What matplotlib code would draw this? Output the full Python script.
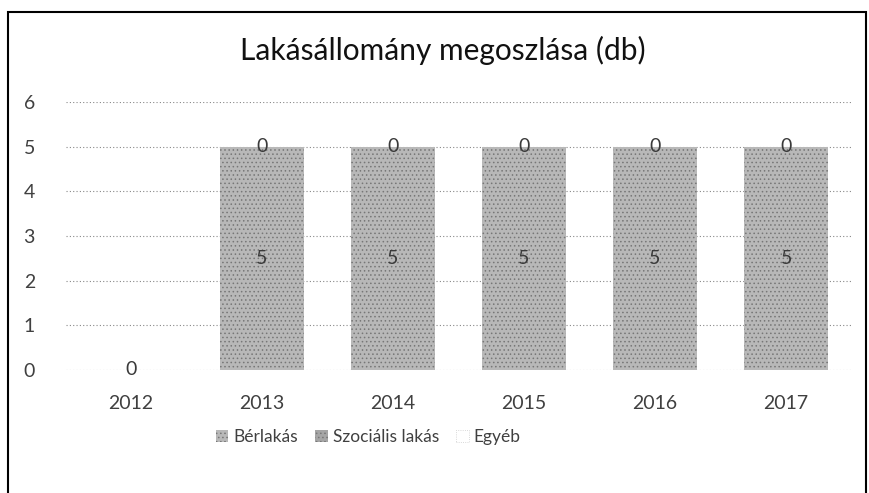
import matplotlib
matplotlib.use("Agg")
import matplotlib.pyplot as plt
from matplotlib.patches import Rectangle, Patch
import numpy as np

plt.rcParams['font.family'] = ['Lato', 'DejaVu Sans']
plt.rcParams['hatch.linewidth'] = 0.6

years = ['2012', '2013', '2014', '2015', '2016', '2017']
berlakas = [0, 5, 5, 5, 5, 5]
szocialis = [0, 0, 0, 0, 0, 0]
egyeb = [0, 0, 0, 0, 0, 0]
title = 'Lakásállomány megoszlása (db)'
series_names = ['Bérlakás', 'Szociális lakás', 'Egyéb']

fig = plt.figure(figsize=(8.69, 4.93), dpi=100)
ax = fig.add_axes([0.0754, 0.2495, 0.9046, 0.5436])

x = np.arange(len(years))
w = 0.64
bar_col = '#b8b8b8'
hatch_col = '#777777'
b1 = ax.bar(x, berlakas, w, color=bar_col, edgecolor=hatch_col, hatch='....', linewidth=0, zorder=3)
bottom2 = np.array(berlakas)
b2 = ax.bar(x, szocialis, w, bottom=bottom2, color='#a5a5a5', edgecolor=hatch_col, hatch='....', linewidth=0, zorder=3)
bottom3 = bottom2 + np.array(szocialis)
b3 = ax.bar(x, egyeb, w, bottom=bottom3, color='white', linewidth=0, zorder=3)

lab_col = '#3a3a3a'
for i in range(len(years)):
    ax.text(x[i], berlakas[i] / 2, str(berlakas[i]), ha='center', va='center', fontsize=14, color=lab_col, zorder=5)
    if i > 0:
        ax.text(x[i], bottom2[i] + szocialis[i] / 2, str(szocialis[i]), ha='center', va='center', fontsize=14, color=lab_col, zorder=5)

ax.set_xlim(-0.5, len(years) - 0.5)
ax.set_ylim(0, 6)
ax.set_yticks(range(0, 7))
ax.set_xticks(x)
ax.set_xticklabels(years)
ax.yaxis.grid(True, linestyle=(0, (1, 2)), color='#888888', linewidth=0.8, zorder=0)
ax.tick_params(axis='both', length=0, labelsize=14, labelcolor='#404040')
ax.tick_params(axis='y', pad=22)
ax.tick_params(axis='x', pad=18)
for s in ax.spines.values():
    s.set_visible(False)

fig.text(0.509, 0.898, title, ha='center', va='center', fontsize=21.5, color='#111111')

handles = [Patch(facecolor=bar_col, edgecolor=hatch_col, hatch='....', linewidth=0),
           Patch(facecolor='#a5a5a5', edgecolor=hatch_col, hatch='....', linewidth=0),
           Patch(facecolor='white', edgecolor='#cccccc', linestyle=':', linewidth=0.6)]
fig.legend(handles, series_names, loc='center', bbox_to_anchor=(0.424, 0.114), ncol=3, frameon=False,
           fontsize=12.5, handlelength=0.7, handleheight=0.7, handletextpad=0.3, columnspacing=1.0,
           labelcolor='#404040')

fig.patches.append(Rectangle((0.009, -0.01), 0.988, 0.985, transform=fig.transFigure, fill=False,
                             edgecolor='black', linewidth=1.5))

fig.savefig('out.png', dpi=100)
